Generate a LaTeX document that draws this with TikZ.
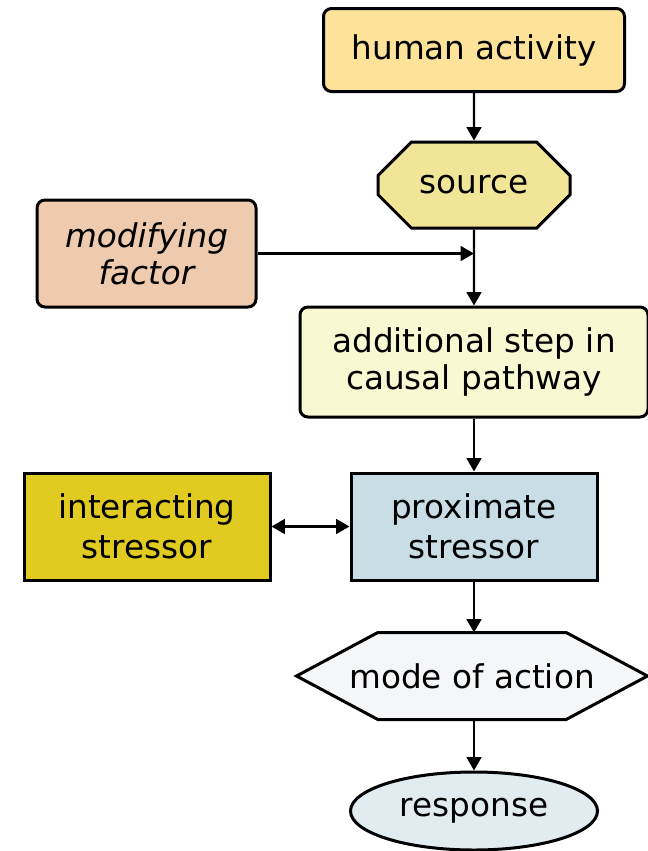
\documentclass[tikz,border=0pt]{standalone}
\usepackage{fontspec}
\setmainfont{DejaVu Sans}
\usetikzlibrary{shapes.misc,shapes.geometric,arrows.meta,backgrounds}
\definecolor{activityfill}{HTML}{FDE39A}
\definecolor{sourcefill}{HTML}{F1E697}
\definecolor{modfill}{HTML}{EECBAF}
\definecolor{stepfill}{HTML}{F8F8D3}
\definecolor{proxfill}{HTML}{C9DDE7}
\definecolor{interfill}{HTML}{E1CB20}
\definecolor{modefill}{HTML}{F5F6F7}
\definecolor{respfill}{HTML}{E1ECF1}
\begin{document}
\begin{tikzpicture}[x=0.75pt,y=-0.75pt,
    box/.style={draw, line width=2.25pt, inner sep=0pt, align=center,
        font=\fontsize{24.5pt}{30pt}\selectfont},
    arr/.style={line width=1.8pt, -{Triangle[length=10pt,width=11pt]}}]
    \useasboundingbox (0,0) rectangle (648,851);
    \node[box, rounded corners=6pt, fill=activityfill, minimum width=225.75pt, minimum height=62.25pt] (act) at (474,50) {human activity};
    \node[box, chamfered rectangle, chamfered rectangle xsep=18pt, chamfered rectangle ysep=18pt,
        fill=sourcefill, minimum width=144pt, minimum height=64.5pt] (src) at (474,185) {source};
    \node[box, rounded corners=6pt, fill=modfill, minimum width=164.25pt, minimum height=80.25pt,
        font=\fontsize{24.5pt}{28pt}\selectfont\itshape] (mod) at (146.5,253.5) {modifying\\factor};
    \node[box, rounded corners=6pt, fill=stepfill, minimum width=261pt, minimum height=82.5pt,
        font=\fontsize{24.5pt}{28pt}\selectfont] (step) at (474,362) {additional step in\\causal pathway};
    \node[box, fill=proxfill, minimum width=184.5pt, minimum height=80.25pt] (prox) at (474,526.5) {proximate\\stressor};
    \node[box, fill=interfill, minimum width=184.5pt, minimum height=80.25pt] (inter) at (147,526.5) {interacting\\stressor};
    \node[box, draw=none, minimum width=261pt, minimum height=63pt] (mode) at (472,676) {mode of action};
    \begin{scope}[on background layer]
        \draw[line width=2.25pt, fill=modefill] (mode.west) -- ([xshift=61pt]mode.north west)
            -- ([xshift=-61pt]mode.north east) -- (mode.east) -- ([xshift=-61pt]mode.south east)
            -- ([xshift=61pt]mode.south west) -- cycle;
    \end{scope}
    \node[box, ellipse, fill=respfill, minimum width=185.25pt, minimum height=58.5pt] (resp) at (474,811) {response};
    \coordinate (join) at (src.south |- mod.east);
    \draw[arr] (act) -- (src);
    \draw[arr] (src) -- (step);
    \draw[arr] (mod.east) -- (join);
    \draw[arr] (step) -- (prox);
    \draw[arr, {Triangle[length=10pt,width=11pt]}-{Triangle[length=10pt,width=11pt]}] (inter) -- (prox);
    \draw[arr] (prox.south) -- (prox.south |- mode.north);
    \draw[arr] (prox.south |- mode.south) -- (resp);
\end{tikzpicture}
\end{document}
